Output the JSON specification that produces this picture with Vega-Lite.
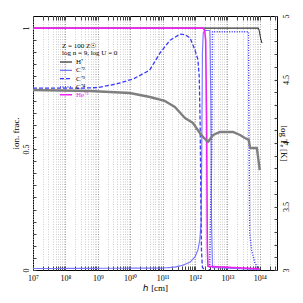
{
  "$schema": "https://vega.github.io/schema/vega-lite/v6.json",
  "width": 244,
  "height": 254,
  "autosize": "none",
  "padding": {"left": 33, "top": 16, "right": 26, "bottom": 33},
  "config": {
    "view": {"stroke": "black", "strokeWidth": 1},
    "font": "Liberation Serif",
    "axis": {"domain": false, "labelFont": "Liberation Serif", "titleFont": "Liberation Serif", "titleFontWeight": "normal", "labelColor": "black", "titleColor": "black", "tickColor": "#444"}
  },
  "datasets": {
    "ions": [
      {"ion": "H⁺", "h": 1e7, "frac": 1},
      {"ion": "H⁺", "h": 9.12e13, "frac": 1},
      {"ion": "H⁺", "h": 9.77e13, "frac": 0.985},
      {"ion": "H⁺", "h": 1.07e14, "frac": 0.955},
      {"ion": "H⁺", "h": 1.17e14, "frac": 0.938},
      {"ion": "C⁺²", "h": 1e7, "frac": 0.006},
      {"ion": "C⁺²", "h": 1e11, "frac": 0.008},
      {"ion": "C⁺²", "h": 2.4e11, "frac": 0.012},
      {"ion": "C⁺²", "h": 4.27e11, "frac": 0.02},
      {"ion": "C⁺²", "h": 7.08e11, "frac": 0.033},
      {"ion": "C⁺²", "h": 1e12, "frac": 0.054},
      {"ion": "C⁺²", "h": 1.23e12, "frac": 0.083},
      {"ion": "C⁺²", "h": 1.41e12, "frac": 0.124},
      {"ion": "C⁺²", "h": 1.55e12, "frac": 0.2},
      {"ion": "C⁺²", "h": 1.62e12, "frac": 0.5},
      {"ion": "C⁺²", "h": 1.70e12, "frac": 0.9},
      {"ion": "C⁺²", "h": 1.80e12, "frac": 0.98},
      {"ion": "C⁺²", "h": 1.995e12, "frac": 0.99},
      {"ion": "C⁺²", "h": 2.88e12, "frac": 0.99},
      {"ion": "C⁺²", "h": 3.09e12, "frac": 0.7},
      {"ion": "C⁺²", "h": 3.24e12, "frac": 0.2},
      {"ion": "C⁺²", "h": 3.47e12, "frac": 0.01},
      {"ion": "C⁺²", "h": 1e14, "frac": 0.002},
      {"ion": "C⁺³", "h": 1e7, "frac": 0.752},
      {"ion": "C⁺³", "h": 3.16e8, "frac": 0.752},
      {"ion": "C⁺³", "h": 1e9, "frac": 0.754},
      {"ion": "C⁺³", "h": 3.98e9, "frac": 0.77},
      {"ion": "C⁺³", "h": 1.26e10, "frac": 0.79},
      {"ion": "C⁺³", "h": 3.98e10, "frac": 0.826},
      {"ion": "C⁺³", "h": 8.32e10, "frac": 0.897},
      {"ion": "C⁺³", "h": 1.7e11, "frac": 0.95},
      {"ion": "C⁺³", "h": 3.47e11, "frac": 0.975},
      {"ion": "C⁺³", "h": 5.01e11, "frac": 0.972},
      {"ion": "C⁺³", "h": 7.08e11, "frac": 0.959},
      {"ion": "C⁺³", "h": 1e12, "frac": 0.909},
      {"ion": "C⁺³", "h": 1.23e12, "frac": 0.87},
      {"ion": "C⁺³", "h": 1.35e12, "frac": 0.8},
      {"ion": "C⁺³", "h": 1.445e12, "frac": 0.6},
      {"ion": "C⁺³", "h": 1.514e12, "frac": 0.3},
      {"ion": "C⁺³", "h": 1.585e12, "frac": 0.08},
      {"ion": "C⁺³", "h": 1.7e12, "frac": 0.01},
      {"ion": "C⁺³", "h": 2e12, "frac": 0.001},
      {"ion": "C⁺⁴", "h": 2.8e12, "frac": 0},
      {"ion": "C⁺⁴", "h": 3.31e12, "frac": 0.5},
      {"ion": "C⁺⁴", "h": 3.47e12, "frac": 0.985},
      {"ion": "C⁺⁴", "h": 4.47e13, "frac": 0.985},
      {"ion": "C⁺⁴", "h": 4.68e13, "frac": 0.5},
      {"ion": "C⁺⁴", "h": 4.9e13, "frac": 0.15},
      {"ion": "C⁺⁴", "h": 5.62e13, "frac": 0.08},
      {"ion": "C⁺⁴", "h": 7.08e13, "frac": 0.03},
      {"ion": "C⁺⁴", "h": 8.91e13, "frac": 0.005},
      {"ion": "He⁺²", "h": 1e7, "frac": 1},
      {"ion": "He⁺²", "h": 1.778e12, "frac": 1},
      {"ion": "He⁺²", "h": 1.995e12, "frac": 0.99},
      {"ion": "He⁺²", "h": 2.138e12, "frac": 0.95},
      {"ion": "He⁺²", "h": 2.291e12, "frac": 0.6},
      {"ion": "He⁺²", "h": 2.399e12, "frac": 0.1},
      {"ion": "He⁺²", "h": 2.512e12, "frac": 0.015},
      {"ion": "He⁺²", "h": 1e14, "frac": 0.005}
    ],
    "temp": [
      {"h": 1e7, "logT": 4.417},
      {"h": 5.75e8, "logT": 4.409},
      {"h": 9.77e9, "logT": 4.394},
      {"h": 4.07e10, "logT": 4.362},
      {"h": 1.175e11, "logT": 4.331},
      {"h": 2.4e11, "logT": 4.283},
      {"h": 4.9e11, "logT": 4.197},
      {"h": 8.71e11, "logT": 4.157},
      {"h": 1.413e12, "logT": 4.079},
      {"h": 1.778e12, "logT": 4.047},
      {"h": 2.512e12, "logT": 4.008},
      {"h": 3.63e12, "logT": 4.063},
      {"h": 5.89e12, "logT": 4.087},
      {"h": 1.479e13, "logT": 4.087},
      {"h": 2.455e13, "logT": 4.063},
      {"h": 3.467e13, "logT": 4.039},
      {"h": 4.57e13, "logT": 4.024},
      {"h": 5.01e13, "logT": 3.961},
      {"h": 8.13e13, "logT": 3.961},
      {"h": 1e14, "logT": 3.787}
    ]
  },
  "layer": [
    {
      "data": {"name": "ions"},
      "mark": {"type": "line", "strokeJoin": "round"},
      "encoding": {
        "x": {
          "field": "h", "type": "quantitative",
          "scale": {"type": "log", "domain": [1e7, 3.4e14]},
          "axis": {
            "orient": "bottom",
            "title": "ℎ [cm]",
            "titleFontSize": 9,
            "titlePadding": 1,
            "labelFontSize": 8,
            "labelPadding": 8,
            "tickSize": -4,
            "grid": true,
            "gridDash": [1, 1.5],
            "gridColor": {"condition": {"test": "abs(log(datum.value)/LN10 - round(log(datum.value)/LN10)) < 0.001", "value": "#9a9a9a"}, "value": "#cfcfcf"},
            "values": [1e7,2e7,3e7,4e7,5e7,6e7,7e7,8e7,9e7,1e8,2e8,3e8,4e8,5e8,6e8,7e8,8e8,9e8,1e9,2e9,3e9,4e9,5e9,6e9,7e9,8e9,9e9,1e10,2e10,3e10,4e10,5e10,6e10,7e10,8e10,9e10,1e11,2e11,3e11,4e11,5e11,6e11,7e11,8e11,9e11,1e12,2e12,3e12,4e12,5e12,6e12,7e12,8e12,9e12,1e13,2e13,3e13,4e13,5e13,6e13,7e13,8e13,9e13,1e14,2e14,3e14],
            "labelExpr": "datum.value == 1e7 ? '10⁷' : datum.value == 1e8 ? '10⁸' : datum.value == 1e9 ? '10⁹' : datum.value == 1e10 ? '10¹⁰' : datum.value == 1e11 ? '10¹¹' : datum.value == 1e12 ? '10¹²' : datum.value == 1e13 ? '10¹³' : datum.value == 1e14 ? '10¹⁴' : ''",
            "labelFlush": false,
            "labelOverlap": false
          }
        },
        "y": {
          "field": "frac", "type": "quantitative",
          "scale": {"domain": [0, 1.05], "nice": false, "zero": false},
          "axis": {
            "orient": "left",
            "title": "ion. frac.",
            "titleFontSize": 9,
            "titlePadding": 2,
            "titleY": 117,
            "labelFontSize": 8,
            "labelAngle": 270,
            "labelPadding": 6,
            "tickSize": -3,
            "grid": false,
            "values": [0,0.05,0.1,0.15,0.2,0.25,0.3,0.35,0.4,0.45,0.5,0.55,0.6,0.65,0.7,0.75,0.8,0.85,0.9,0.95,1],
            "labelExpr": "datum.value == 0 ? '0' : datum.value == 0.5 ? '0.5' : datum.value == 1 ? '1' : ''",
            "labelOverlap": false
          }
        },
        "color": {
          "field": "ion", "type": "nominal",
          "scale": {"domain": ["H⁺", "C⁺²", "C⁺³", "C⁺⁴", "He⁺²"], "range": ["black", "#7777ff", "#3a3aff", "#3a3aff", "#ee22ee"]},
          "legend": {
            "orient": "none", "legendX": 29, "legendY": 26,
            "title": ["Z = 100 Z☉", "log n = 9, log U = 0"],
            "titleFont": "Liberation Serif", "titleFontSize": 7, "titleFontWeight": "normal", "titleLineHeight": 6.5, "titlePadding": 3,
            "labelFont": "Liberation Serif", "labelFontSize": 7, "labelOffset": 6,
            "symbolType": "M-2.2,0H2.2", "symbolSize": 30, "rowPadding": 0.3,
            "encode": {"labels": {"update": {"fill": {"signal": "datum.label == 'He⁺²' ? '#ee22ee' : 'black'"}}}}
          }
        },
        "strokeDash": {
          "field": "ion", "type": "nominal",
          "scale": {"domain": ["H⁺", "C⁺²", "C⁺³", "C⁺⁴", "He⁺²"], "range": [[1, 0], [1, 0], [4, 2], [1, 1.5], [1, 0]]},
          "legend": null
        },
        "strokeWidth": {
          "field": "ion", "type": "nominal",
          "scale": {"domain": ["H⁺", "C⁺²", "C⁺³", "C⁺⁴", "He⁺²"], "range": [1, 1.6, 1.1, 1, 1.6]},
          "legend": null
        }
      }
    },
    {
      "data": {"name": "temp"},
      "mark": {"type": "line", "color": "#7f7f7f", "strokeWidth": 2.4, "strokeJoin": "round"},
      "encoding": {
        "x": {
          "field": "h", "type": "quantitative",
          "scale": {"type": "log", "domain": [1e7, 3.4e14]},
          "axis": {
            "orient": "top", "title": null, "labels": false, "grid": false, "tickSize": -4,
            "values": [1e7,2e7,3e7,4e7,5e7,6e7,7e7,8e7,9e7,1e8,2e8,3e8,4e8,5e8,6e8,7e8,8e8,9e8,1e9,2e9,3e9,4e9,5e9,6e9,7e9,8e9,9e9,1e10,2e10,3e10,4e10,5e10,6e10,7e10,8e10,9e10,1e11,2e11,3e11,4e11,5e11,6e11,7e11,8e11,9e11,1e12,2e12,3e12,4e12,5e12,6e12,7e12,8e12,9e12,1e13,2e13,3e13,4e13,5e13,6e13,7e13,8e13,9e13,1e14,2e14,3e14]
          }
        },
        "y": {
          "field": "logT", "type": "quantitative",
          "scale": {"domain": [3, 5], "nice": false, "zero": false},
          "axis": {
            "orient": "right",
            "title": "log Tₑ [K]",
            "titleFontSize": 9,
            "titlePadding": -12,
            "labelFontSize": 8,
            "labelAngle": 270,
            "labelPadding": 8,
            "tickSize": -3,
            "grid": false,
            "values": [3,3.1,3.2,3.3,3.4,3.5,3.6,3.7,3.8,3.9,4,4.1,4.2,4.3,4.4,4.5,4.6,4.7,4.8,4.9,5],
            "labelExpr": "abs(datum.value*2 - round(datum.value*2)) < 0.01 ? format(datum.value, '.2~f') : ''",
            "labelOverlap": false
          }
        }
      }
    }
  ],
  "resolve": {"scale": {"y": "independent"}, "axis": {"x": "independent"}}
}
